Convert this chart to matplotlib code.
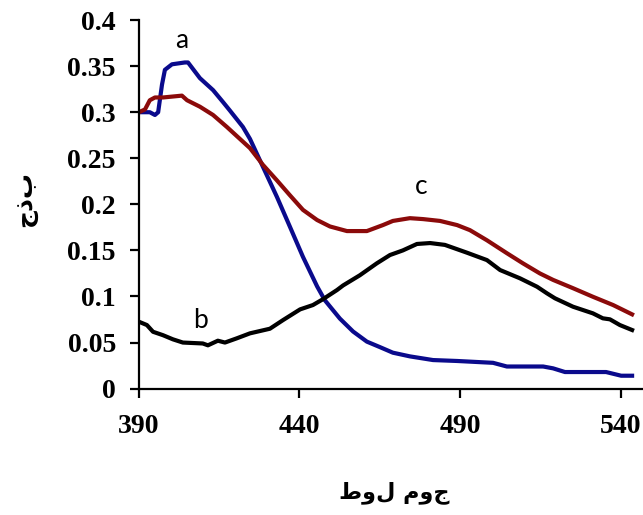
import matplotlib
matplotlib.use("Agg")
import matplotlib.pyplot as plt

# absorption spectra, wavelength (nm) vs absorbance
wl_a = [390, 393.4, 395, 396, 397.2, 398.1, 400.3, 404.3, 405.3, 409, 413.1, 416.2,
        418.3, 422.4, 424.6, 428.6, 433, 437, 441.1, 445.5, 447.9, 452.6, 456.7,
        461, 465.1, 469.1, 474.4, 481.6, 489.1, 500.3, 504.6, 515.9, 519, 522.7,
        535.5, 540.2, 543.6]
abs_a = [0.300, 0.300, 0.297, 0.300, 0.330, 0.346, 0.352, 0.354, 0.354, 0.337, 0.324,
         0.311, 0.302, 0.284, 0.271, 0.241, 0.208, 0.176, 0.143, 0.111, 0.096, 0.076,
         0.062, 0.051, 0.045, 0.039, 0.035, 0.031, 0.030, 0.028, 0.024, 0.024, 0.022,
         0.018, 0.018, 0.014, 0.014]

wl_b = [390, 392.5, 394.4, 397.5, 400.6, 403.7, 409.9, 411.5, 414.6, 416.8, 420.5,
        424.6, 430.8, 434.9, 440.2, 444.2, 447.3, 451.7, 453.6, 458.8, 464.1, 468.2,
        472.2, 476.6, 480.7, 485.3, 492.2, 498.4, 502.5, 508.7, 514, 517.1, 519.6,
        525.2, 531.4, 534.5, 536.7, 539.8, 543.6]
abs_b = [0.0726, 0.069, 0.0617, 0.058, 0.0535, 0.050, 0.049, 0.047, 0.052, 0.050,
         0.0546, 0.060, 0.065, 0.0744, 0.086, 0.0907, 0.097, 0.107, 0.112, 0.123,
         0.136, 0.145, 0.150, 0.157, 0.158, 0.156, 0.1475, 0.1395, 0.1287, 0.1197,
         0.1106, 0.1034, 0.098, 0.0889, 0.0817, 0.0763, 0.0752, 0.069, 0.0636]

wl_c = [390, 391.9, 393.4, 395, 397.5, 403.4, 405, 409, 413.1, 417.4, 424.6, 428.6,
        433, 437, 441.1, 445.5, 449.5, 454.8, 461, 466, 469.1, 474.4, 478.5, 483.8,
        489.1, 493.1, 498.4, 504.6, 509.6, 514.9, 519, 525.2, 531.4, 537.7, 543.6]
abs_c = [0.300, 0.303, 0.313, 0.316, 0.316, 0.318, 0.313, 0.306, 0.297, 0.284, 0.261,
         0.243, 0.226, 0.210, 0.194, 0.183, 0.176, 0.171, 0.171, 0.1775, 0.182, 0.185,
         0.184, 0.182, 0.1775, 0.172, 0.161, 0.147, 0.136, 0.125, 0.118, 0.109, 0.0997,
         0.0907, 0.0806]

x_ticks = [390, 440, 490, 540]
y_ticks = [0, 0.05, 0.1, 0.15, 0.2, 0.25, 0.3, 0.35, 0.4]
y_labels = ['0', '0.05', '0.1', '0.15', '0.2', '0.25', '0.3', '0.35', '0.4']

x_title = 'طول موج'
y_title = 'جذب'

fig = plt.figure(figsize=(6.43, 5.15), dpi=100)
ax = fig.add_axes([0.216, 0.2454, 0.784, 0.7156])

ax.plot(wl_a, abs_a, color='#0a0a8c', lw=3)
ax.plot(wl_c, abs_c, color='#8b0a0a', lw=3)
ax.plot(wl_b, abs_b, color='black', lw=3)

ax.set_xlim(390, 547)
ax.set_ylim(0, 0.4)
ax.set_xticks(x_ticks)
ax.set_yticks(y_ticks)
ax.set_yticklabels(y_labels)

for s in ['top', 'right']:
    ax.spines[s].set_visible(False)
for s in ['left', 'bottom']:
    ax.spines[s].set_linewidth(1.6)

ax.tick_params(direction='out', length=6.5, width=1.6)
ax.tick_params(axis='y', pad=10)
ax.tick_params(axis='x', pad=12)
for lbl in ax.get_xticklabels() + ax.get_yticklabels():
    lbl.set_fontfamily('Liberation Serif')
    lbl.set_fontweight('bold')
    lbl.set_fontsize(20)

ax.text(403.4, 0.378, 'a', fontsize=19, family='Lato', ha='center', va='center')
ax.text(409.3, 0.074, 'b', fontsize=19, family='Lato', ha='center', va='center')
ax.text(477.8, 0.219, 'c', fontsize=19, family='Lato', ha='center', va='center')

fig.text(0.613, 0.044, x_title, fontsize=16, fontweight='bold',
         family='DejaVu Sans', ha='center', va='center')
fig.text(0.039, 0.614, y_title, fontsize=18, fontweight='bold', rotation=90,
         family='DejaVu Sans', ha='center', va='center')

fig.savefig('out.png', dpi=100)
